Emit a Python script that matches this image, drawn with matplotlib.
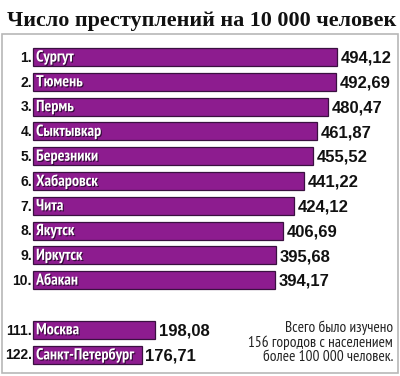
import matplotlib.pyplot as plt
import matplotlib.patheffects as pe
from matplotlib.patches import Rectangle

# data
ranks = ["1.", "2.", "3.", "4.", "5.", "6.", "7.", "8.", "9.", "10.", "111.", "122."]
cities = ["Сургут", "Тюмень", "Пермь", "Сыктывкар", "Березники", "Хабаровск",
          "Чита", "Якутск", "Иркутск", "Абакан", "Москва", "Санкт-Петербург"]
values = [494.12, 492.69, 480.47, 461.87, 455.52, 441.22,
          424.12, 406.69, 395.68, 394.17, 198.08, 176.71]
rows = [0, 1, 2, 3, 4, 5, 6, 7, 8, 9, 11, 12]

title = "Число преступлений на 10 000 человек"
note = "Всего было изучено\n156 городов с населением\nболее 100 000 человек."

W, H = 400, 376
x0 = 33          # pixel where value 0 sits
ppu = 0.615      # pixels per unit
y0 = 57          # pixel centre of first row
pitch = 24.8

fig = plt.figure(figsize=(W / 100, H / 100), dpi=100)
fig.patch.set_facecolor("white")

# frame
fig.patches.append(Rectangle((2 / W, 3 / H), 396 / W, (H - 37) / H,
                             transform=fig.transFigure, fill=False,
                             edgecolor="#b8b8b8", lw=1.2))

ax = fig.add_axes([0, 0, 1, 1])
ax.set_xlim(-x0 / ppu, (W - x0) / ppu)
ax.set_ylim((H - y0) / pitch, -y0 / pitch)
ax.axis("off")

ax.barh(rows, values, height=0.73, color="#8d1c8f", edgecolor="#3a1040",
        linewidth=0.9, align="center")

narrow = ["PT Sans Narrow", "DejaVu Sans"]
arial = ["Liberation Sans", "DejaVu Sans"]
shadow = [pe.withSimplePatchShadow(offset=(0.8, -0.8), shadow_rgbFace="#2a0830", alpha=0.9)]

for r, rk, c, v in zip(rows, ranks, cities, values):
    ax.text(-1.5, r + 0.03, rk, ha="right", va="center", fontsize=10,
            fontweight="bold", family=arial, color="#111111")
    ax.text(5, r + 0.02, c, ha="left", va="center", fontsize=11.5,
            fontweight="bold", family=narrow, stretch="condensed",
            color="white", path_effects=shadow)
    ax.text(v + 6, r + 0.05, f"{v:.2f}".replace(".", ","), ha="left", va="center",
            fontsize=12, fontweight="bold", family=arial, color="#111111")

fig.text(7 / W, 1 - 21 / H, title, ha="left", va="center", fontsize=15.9,
         fontweight="bold", family=["Liberation Serif", "DejaVu Serif"],
         color="#111111")

fig.text(393 / W, 1 - 342 / H, note, ha="right", va="center", fontsize=11,
         family=narrow, stretch="condensed", color="#222222", linespacing=1.0)

fig.savefig("out.png", dpi=100, facecolor="white")
